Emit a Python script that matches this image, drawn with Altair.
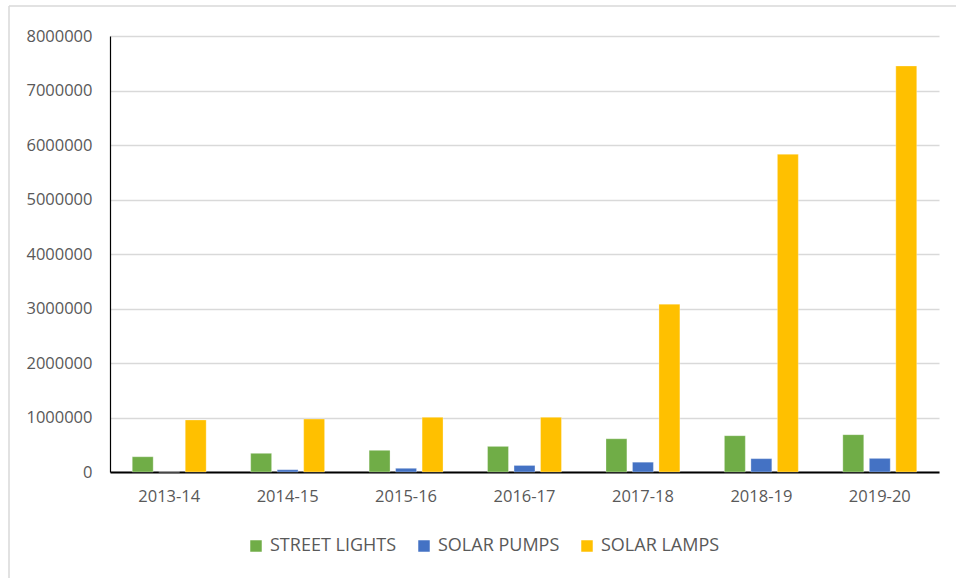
import altair as alt
import pandas as pd

years = ["2013-14", "2014-15", "2015-16", "2016-17", "2017-18", "2018-19", "2019-20"]
series = ["STREET LIGHTS", "SOLAR PUMPS", "SOLAR LAMPS"]
street_lights = [280000, 343000, 398000, 470000, 610000, 666000, 685000]
solar_pumps = [0, 42000, 68000, 120000, 180000, 245000, 250000]
solar_lamps = [955000, 972000, 1003000, 1003000, 3080000, 5830000, 7450000]
y_ticks = [0, 1000000, 2000000, 3000000, 4000000, 5000000, 6000000, 7000000, 8000000]
colors = ["#70AD47", "#4472C4", "#FFC000"]

rows = []
for i, yr in enumerate(years):
    for s, vals in zip(series, [street_lights, solar_pumps, solar_lamps]):
        rows.append({"year": yr, "series": s, "value": vals[i]})
df = pd.DataFrame(rows)

FONT = "Open Sans"
TXT = "#595959"

bars = alt.Chart(df).mark_bar(stroke="white", strokeWidth=0.6, strokeOpacity=0.5).encode(
    x=alt.X("year:N", sort=years, title=None,
            scale=alt.Scale(paddingInner=0, paddingOuter=0),
            axis=alt.Axis(labelAngle=0, ticks=False, domainColor="#000000", domainWidth=2,
                          labelFont=FONT, labelFontSize=16.5, labelColor=TXT, labelPadding=16,
                          grid=False)),
    xOffset=alt.XOffset("series:N", sort=series,
                        scale=alt.Scale(paddingInner=0.21, paddingOuter=0.84)),
    y=alt.Y("value:Q", title=None,
            scale=alt.Scale(domain=[0, 8000000], nice=False),
            axis=alt.Axis(values=y_ticks, format="d", ticks=False, domainColor="#000000",
                          domainWidth=1.2, gridColor="#D9D9D9", gridWidth=1.5,
                          labelFont=FONT, labelFontSize=16.5, labelColor=TXT, labelPadding=18)),
    color=alt.Color("series:N", sort=series,
                    scale=alt.Scale(domain=series, range=colors),
                    legend=alt.Legend(title=None, orient="none", direction="horizontal",
                                      legendX=137, legendY=501, symbolType="square",
                                      symbolSize=132, symbolStrokeWidth=0,
                                      labelFont=FONT, labelFontSize=18, labelColor=TXT,
                                      labelOffset=5, columnPadding=18, labelLimit=300)),
)

frame_df = pd.DataFrame({"k": [0]})
top_line = alt.Chart(frame_df).mark_rule(color="#D9D9D9", strokeWidth=1.5).encode(
    x=alt.value(-101), x2=alt.value(846), y=alt.value(-30))
left_line = alt.Chart(frame_df).mark_rule(color="#D9D9D9", strokeWidth=1.5).encode(
    x=alt.value(-101), y=alt.value(-30), y2=alt.value(542))

chart = alt.layer(bars, top_line, left_line).properties(
    width=829, height=436,
    padding={"left": 110, "top": 36, "right": 17, "bottom": 106},
    autosize=alt.AutoSizeParams(type="none"),
    background="white",
).configure_view(stroke=None)

chart.save("out.html", embed_options={"renderer": "svg", "actions": False})
